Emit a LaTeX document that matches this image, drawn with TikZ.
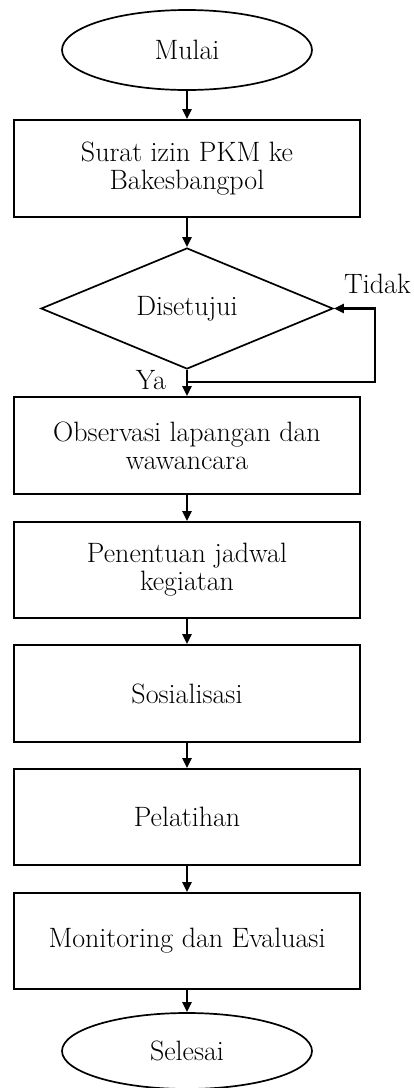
\documentclass[tikz,border=0pt]{standalone}
\usepackage{fontspec}
\usetikzlibrary{shapes.geometric,arrows.meta}
\begin{document}
\begin{tikzpicture}[x=1pt,y=-1pt,
  every node/.style={font=\fontsize{28}{28}\selectfont},
  term/.style={draw,line width=1.7pt,ellipse,minimum width=250pt,minimum height=80pt,inner sep=0pt},
  procbox/.style={draw,line width=1.7pt,rectangle,minimum width=346pt,minimum height=97pt,inner sep=0pt,align=center},
  decis/.style={draw,line width=1.7pt,diamond,aspect=2.4,minimum width=292pt,minimum height=121pt,inner sep=0pt},
  flow/.style={line width=2.3pt,-{Triangle[length=10pt,width=9pt]}},
  lbl/.style={inner sep=0pt}]
\useasboundingbox (0,0) rectangle (414,1088);
\node[term] (start) at (187,50) {Mulai};
\node[procbox] (s1) at (187,168.5) {Surat izin PKM ke\\Bakesbangpol};
\node[decis] (dec) at (187,308.5) {Disetujui};
\node[procbox] (s2) at (187,445.5) {Observasi lapangan dan\\wawancara};
\node[procbox,minimum height=96pt] (s3) at (187,570) {Penentuan jadwal\\kegiatan};
\node[procbox] (s4) at (187,693.5) {Sosialisasi};
\node[procbox,minimum height=96pt] (s5) at (187,817) {Pelatihan};
\node[procbox,minimum height=96pt] (s6) at (187,941) {Monitoring dan Evaluasi};
\node[term,minimum height=76pt] (end) at (187,1051) {Selesai};
\node[lbl,anchor=west] (tidak) at (344,284) {Tidak};
\node[lbl] (ya) at (151,380) {Ya};
\coordinate (junc) at (187,382);
\coordinate (loopc) at (375,382);
\draw[flow] (start) -- (s1);
\draw[flow] (s1) -- (dec);
\draw[flow] (dec.south) -- (s2.north);
\draw[flow] (junc) -- (loopc) |- (dec.east);
\draw[flow] (s2) -- (s3);
\draw[flow] (s3) -- (s4);
\draw[flow] (s4) -- (s5);
\draw[flow] (s5) -- (s6);
\draw[flow] (s6) -- (end);
\end{tikzpicture}
\end{document}
